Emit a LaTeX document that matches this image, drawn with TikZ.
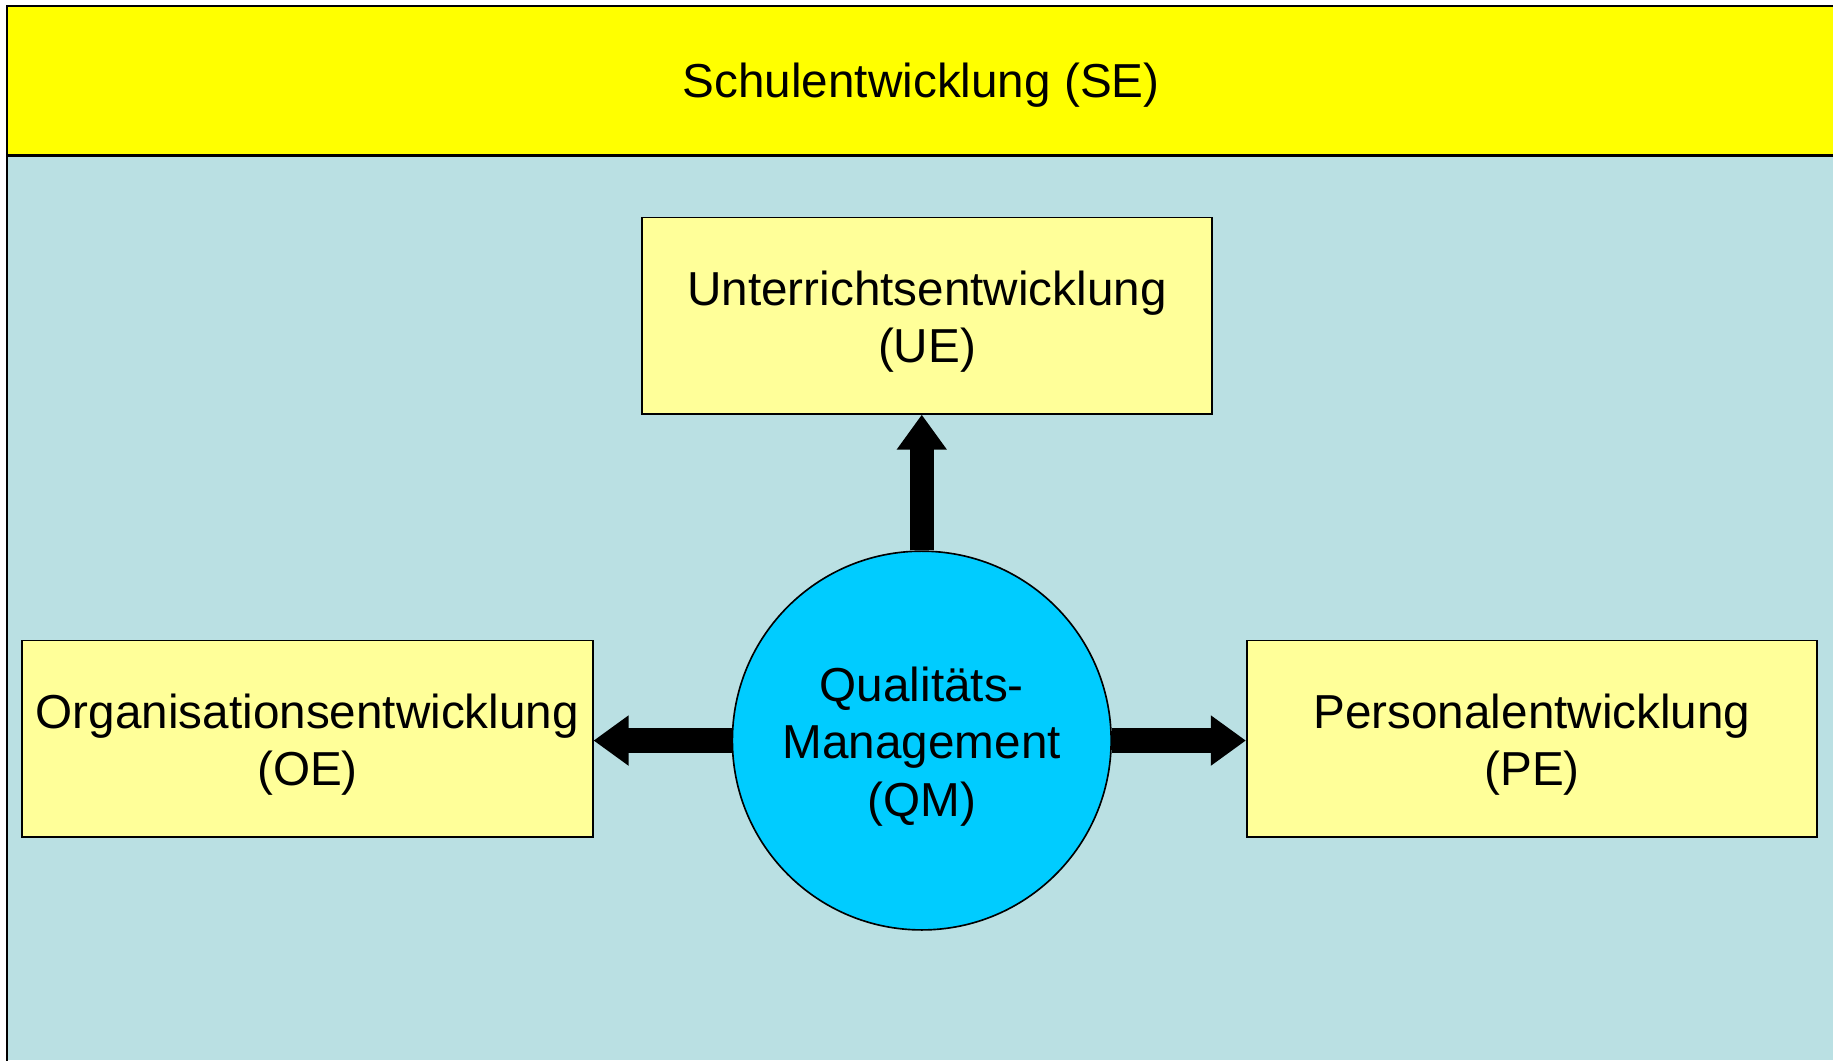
\documentclass[tikz,border=0pt]{standalone}
\usepackage{fontspec}
\setmainfont{Liberation Sans}
\usetikzlibrary{arrows.meta}
\definecolor{bandyellow}{HTML}{FFFF00}
\definecolor{bgblue}{HTML}{BAE0E3}
\definecolor{boxyellow}{HTML}{FFFF99}
\definecolor{qmblue}{HTML}{00CCFF}
\begin{document}
\begin{tikzpicture}[
  txt/.style={font=\fontsize{11.6}{14}\selectfont, align=center, text=black},
  intext/.style={txt, yshift=-0.05cm},
  devbox/.style={draw=black, line width=0.4pt, fill=boxyellow, minimum width=4.88cm, minimum height=1.68cm, inner sep=0pt},
  qmnode/.style={circle, draw=black, line width=0.4pt, fill=qmblue, minimum size=3.24cm, inner sep=0pt},
  blockarrow/.style={line width=0.21cm, draw=black, -{Triangle[length=0.30cm, width=0.41cm]}}
]
\useasboundingbox (0,0) rectangle (15.68,9.07);
% background areas
\fill[bgblue] (0.06,0) rectangle (15.70,7.74);
\fill[bandyellow] (0.06,7.74) rectangle (15.70,9.02);
\draw[line width=0.6pt] (0.06,-0.1) -- (0.06,9.02) -- (15.75,9.02);
\draw[line width=0.6pt] (0.06,7.74) -- (15.75,7.74);
\node[txt] (se) at (7.88,8.34) {Schulentwicklung (SE)};
% nodes
\node[devbox, label={[intext]center:Unterrichtsentwicklung\\(UE)}] (ue) at (7.93,6.37) {};
\node[devbox, label={[intext]center:Organisationsentwicklung\\(OE)}] (oe) at (2.63,2.75) {};
\node[devbox, label={[intext]center:Personalentwicklung\\(PE)}] (pe) at (13.105,2.75) {};
\node[qmnode, label={[intext]center:Qualitäts-\\Management\\(QM)}] (qm) at (7.885,2.735) {};
% arrows
\draw[blockarrow] (qm.north) -- (qm.north |- ue.south);
\draw[blockarrow] (qm.west) -- (qm.west -| oe.east);
\draw[blockarrow] (qm.east) -- (qm.east -| pe.west);
\end{tikzpicture}
\end{document}
